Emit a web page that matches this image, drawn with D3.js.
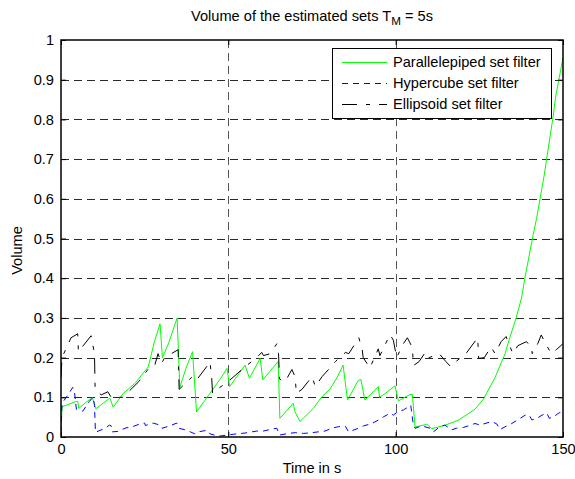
<!DOCTYPE html>
<html>
<head>
<meta charset="utf-8">
<script src="https://cdn.jsdelivr.net/npm/d3@7"></script>
<style>
  body { margin: 0; background: #fff; }
  text { font-family: "Liberation Sans", Arial, sans-serif; }
</style>
</head>
<body>
<svg id="chart" width="575" height="479"></svg>
<script>
// Volume of the parallelepiped set estimate (time in s, volume)
const parTime = [0, 0.3, 4.4, 5, 5.3, 7.7, 9.4, 10.4, 14.6, 15.6, 18.6, 22.1, 26.1, 27.9, 29.6, 30.3, 32.1, 34.7, 35.5, 37.3, 39.3, 40.5, 48, 49.6, 50.4, 55, 56.3, 59.5, 60.3, 64.9, 65.4, 69.4, 69.9, 71.4, 75.4, 77.9, 80.3, 82.5, 84.3, 85.6, 88.8, 89.6, 90.8, 94.8, 95.2, 97.1, 99.8, 100.8, 104.3, 105, 105.8, 109.3, 110.8, 114.5, 118.7, 123.7, 126.2, 129.7, 132.7, 134.1, 136, 137.6, 138.6, 141.1, 142.1, 144.4, 145.1, 147.1, 147.8, 150];
const parVolume = [0.009, 0.076, 0.089, 0.09, 0.072, 0.089, 0.099, 0.071, 0.098, 0.075, 0.11, 0.135, 0.177, 0.24, 0.285, 0.2, 0.235, 0.3, 0.125, 0.172, 0.215, 0.063, 0.151, 0.173, 0.127, 0.181, 0.148, 0.198, 0.144, 0.19, 0.047, 0.085, 0.064, 0.039, 0.072, 0.101, 0.12, 0.15, 0.181, 0.093, 0.142, 0.145, 0.093, 0.127, 0.1, 0.111, 0.129, 0.091, 0.107, 0.107, 0.025, 0.032, 0.021, 0.029, 0.042, 0.07, 0.095, 0.15, 0.21, 0.25, 0.3, 0.35, 0.4, 0.51, 0.55, 0.66, 0.7, 0.81, 0.857, 0.955];

// Volume of the hypercube set estimate
const hypTime = [0, 0.3, 2, 3.5, 4, 4.6, 6.5, 8.5, 9.6, 10, 10.3, 12.9, 14.5, 15, 15.3, 17, 19.4, 21.1, 23.9, 25, 25.2, 27.6, 29.5, 30.2, 32.1, 34.6, 35.2, 37.6, 38.6, 40, 41, 43.7, 44.5, 47, 49, 51.5, 55, 58.5, 60.5, 62.5, 64.5, 65.3, 68, 70, 72.5, 75, 78.9, 80.9, 82.9, 85, 85.9, 88.9, 90.4, 92.9, 94.9, 96.4, 98.4, 99.3, 100.8, 102.3, 103.8, 104.5, 105.3, 105.8, 107.8, 110.3, 111.3, 113.2, 114.7, 116.7, 118.2, 120.2, 121.7, 123.7, 125.2, 126.7, 128.7, 130.2, 131.2, 133.2, 134.7, 137.2, 138.7, 139.9, 140.7, 142.2, 143.7, 145.2, 145.9, 147.2, 148.7, 150];
const hypVolume = [0.01, 0.085, 0.105, 0.125, 0.115, 0.07, 0.065, 0.09, 0.1, 0.08, 0.012, 0.021, 0.03, 0.028, 0.013, 0.014, 0.023, 0.025, 0.034, 0.035, 0.029, 0.035, 0.03, 0.022, 0.027, 0.035, 0.022, 0.017, 0.013, 0.008, 0.013, 0.017, 0.008, 0.002, 0.004, 0.007, 0.01, 0.015, 0.015, 0.019, 0.022, 0.005, 0.009, 0.011, 0.009, 0.011, 0.015, 0.022, 0.026, 0.027, 0.013, 0.022, 0.028, 0.034, 0.043, 0.051, 0.06, 0.055, 0.065, 0.068, 0.076, 0.08, 0.03, 0.022, 0.028, 0.022, 0.013, 0.026, 0.03, 0.018, 0.022, 0.024, 0.028, 0.034, 0.03, 0.034, 0.039, 0.033, 0.019, 0.028, 0.034, 0.047, 0.055, 0.055, 0.043, 0.047, 0.055, 0.06, 0.047, 0.051, 0.06, 0.065];

// Volume of the ellipsoid set estimate
const ellTime = [0, 0.3, 3, 5, 5.2, 9, 10, 10.2, 12, 14, 15, 18.5, 23.3, 26.4, 28, 29, 30, 31, 35, 35.3, 39, 40.2, 43.5, 44.5, 45, 45.3, 47, 50, 55, 57, 59, 60, 60.5, 62.5, 64.5, 65, 65.3, 67, 69, 70, 70.3, 72, 75, 76, 78, 81, 82, 85, 86, 89, 90, 90.3, 92.3, 94.8, 95.3, 98.3, 99.3, 100.3, 102.3, 103.5, 105, 105.3, 107, 109, 110, 113, 115, 116.5, 118, 121, 124.5, 124.8, 126.5, 128.5, 129.7, 131.5, 133, 135, 136.5, 139, 140.5, 140.8, 142.5, 143.5, 145, 146.5, 148, 150];
const ellVolume = [0.15, 0.2, 0.25, 0.26, 0.215, 0.255, 0.21, 0.12, 0.106, 0.114, 0.1, 0.1, 0.14, 0.175, 0.18, 0.21, 0.185, 0.2, 0.22, 0.12, 0.15, 0.14, 0.177, 0.19, 0.152, 0.11, 0.122, 0.14, 0.177, 0.19, 0.205, 0.213, 0.205, 0.21, 0.235, 0.21, 0.146, 0.14, 0.17, 0.15, 0.11, 0.12, 0.152, 0.127, 0.152, 0.18, 0.19, 0.213, 0.21, 0.25, 0.22, 0.2, 0.174, 0.222, 0.205, 0.258, 0.244, 0.2, 0.235, 0.25, 0.225, 0.18, 0.19, 0.215, 0.2, 0.21, 0.19, 0.177, 0.19, 0.21, 0.25, 0.198, 0.2, 0.227, 0.21, 0.24, 0.253, 0.21, 0.23, 0.24, 0.23, 0.21, 0.236, 0.257, 0.232, 0.21, 0.22, 0.235];

const seriesNames = ["Parallelepiped set filter", "Hypercube set filter", "Ellipsoid set filter"];
const xTicks = [0, 50, 100, 150];
const yTicks = [0, 0.1, 0.2, 0.3, 0.4, 0.5, 0.6, 0.7, 0.8, 0.9, 1];

const FONT = 14.6;
const box = { left: 61, right: 563, top: 40, bottom: 437 };

const svg = d3.select("#chart");
svg.append("rect").attr("width", 575).attr("height", 479).attr("fill", "#fff");

const x = d3.scaleLinear().domain([0, 150]).range([box.left, box.right]);
const y = d3.scaleLinear().domain([0, 1]).range([box.bottom, box.top]);

svg.append("defs").append("clipPath").attr("id", "plot-clip")
  .append("rect")
  .attr("x", box.left).attr("y", box.top)
  .attr("width", box.right - box.left).attr("height", box.bottom - box.top);

// dashed grid
const grid = svg.append("g").attr("stroke", "#2a2a2a").attr("stroke-width", 1)
  .attr("stroke-dasharray", "8,5").attr("fill", "none");
grid.selectAll(".gy").data(yTicks.filter(v => v > 0 && v < 1)).join("line")
  .attr("x1", box.left).attr("x2", box.right)
  .attr("y1", d => Math.round(y(d)) + 0.5).attr("y2", d => Math.round(y(d)) + 0.5);
grid.selectAll(".gx").data(xTicks.filter(v => v > 0 && v < 150)).join("line")
  .attr("stroke", "#555")
  .attr("y1", box.top).attr("y2", box.bottom)
  .attr("x1", d => Math.round(x(d)) + 0.5).attr("x2", d => Math.round(x(d)) + 0.5);

// data series
const line = d3.line().x(d => x(d[0])).y(d => y(d[1]));
const series = [
  { name: seriesNames[0], t: parTime, v: parVolume, color: "#00ff00", dash: null },
  { name: seriesNames[1], t: hypTime, v: hypVolume, color: "#0000ff", dash: "6,5" },
  { name: seriesNames[2], t: ellTime, v: ellVolume, color: "#000000", dash: "15,9,4,9" }
];
const plot = svg.append("g").attr("clip-path", "url(#plot-clip)");
series.forEach(s => {
  plot.append("path")
    .datum(s.t.map((t, i) => [t, s.v[i]]))
    .attr("fill", "none")
    .attr("stroke", s.color)
    .attr("stroke-width", 1)
    .attr("stroke-dasharray", s.dash)
    .attr("d", line);
});

// axes with inward ticks on all four sides
const bottomAxis = svg.append("g").attr("transform", `translate(0,${box.bottom})`)
  .call(d3.axisBottom(x).tickValues(xTicks).tickSizeInner(-5).tickSizeOuter(0).tickPadding(7));
const leftAxis = svg.append("g").attr("transform", `translate(${box.left},0)`)
  .call(d3.axisLeft(y).tickValues(yTicks).tickSizeInner(-5).tickSizeOuter(0).tickPadding(7)
    .tickFormat(d => d3.format("")(+d.toFixed(1))));
const topAxis = svg.append("g").attr("transform", `translate(0,${box.top})`)
  .call(d3.axisTop(x).tickValues(xTicks).tickSizeInner(-5).tickSizeOuter(0).tickFormat(""));
const rightAxis = svg.append("g").attr("transform", `translate(${box.right},0)`)
  .call(d3.axisRight(y).tickValues(yTicks).tickSizeInner(-5).tickSizeOuter(0).tickFormat(""));

[bottomAxis, leftAxis, topAxis, rightAxis].forEach(g => {
  g.select(".domain").remove();
  g.selectAll("line").attr("stroke", "#000");
  g.selectAll("text").attr("font-size", FONT).attr("fill", "#000")
    .style("font-family", '"Liberation Sans", Arial, sans-serif');
});

// axes frame
svg.append("rect")
  .attr("x", box.left).attr("y", box.top)
  .attr("width", box.right - box.left).attr("height", box.bottom - box.top)
  .attr("fill", "none").attr("stroke", "#000").attr("stroke-width", 1.5);

// title with subscript
const title = svg.append("text")
  .attr("x", (box.left + box.right) / 2).attr("y", 21)
  .attr("text-anchor", "middle").attr("font-size", FONT).attr("fill", "#000");
title.append("tspan").text("Volume of the estimated sets T");
title.append("tspan").attr("dy", 4).attr("font-size", FONT * 0.8).text("M");
title.append("tspan").attr("dy", -4).text(" = 5s");

// axis labels
svg.append("text")
  .attr("x", (box.left + box.right) / 2).attr("y", 473)
  .attr("text-anchor", "middle").attr("font-size", FONT).attr("fill", "#000")
  .text("Time in s");
svg.append("text")
  .attr("transform", `translate(22,${(box.top + box.bottom) / 2 + 12}) rotate(-90)`)
  .attr("text-anchor", "middle").attr("font-size", FONT).attr("fill", "#000")
  .text("Volume");

// legend
const legend = svg.append("g");
legend.append("rect")
  .attr("x", 332.5).attr("y", 48.5).attr("width", 219).attr("height", 70)
  .attr("fill", "#fff").attr("stroke", "#000").attr("stroke-width", 1);
series.forEach((s, i) => {
  const cy = 62 + i * 21;
  legend.append("line")
    .attr("x1", 342).attr("x2", 387).attr("y1", cy + 0.5).attr("y2", cy + 0.5)
    .attr("stroke", s.color).attr("stroke-width", 1)
    .attr("stroke-dasharray", s.dash);
  legend.append("text")
    .attr("x", 393).attr("y", cy).attr("dy", "0.35em")
    .attr("font-size", FONT).attr("fill", "#000")
    .text(s.name);
});
</script>
</body>
</html>
